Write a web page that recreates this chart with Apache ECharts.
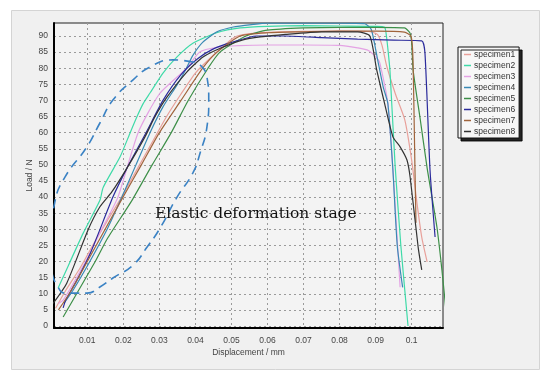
<!DOCTYPE html>
<html><head><meta charset="utf-8">
<script src="https://cdn.jsdelivr.net/npm/echarts@6/dist/echarts.min.js"></script>
<style>html,body{margin:0;padding:0;background:#fff}#c{width:550px;height:379px}</style>
</head><body><div id="c"></div>
<script>
// ---- data (displacement mm, load N) ----
const seriesNames = ['specimen1','specimen2','specimen3','specimen4','specimen5','specimen6','specimen7','specimen8'];
const xTickValues = [0.01,0.02,0.03,0.04,0.05,0.06,0.07,0.08,0.09,0.1];
const yTickValues = [0,5,10,15,20,25,30,35,40,45,50,55,60,65,70,75,80,85,90];
const specimen1 = [[0.0012,5.5],[0.004,11],[0.008,18],[0.012,26],[0.016,33.5],[0.0195,40],[0.024,49],[0.028,57],[0.032,65],[0.036,72],[0.040,78.5],[0.044,83],[0.0496,88.6],[0.0516,90],[0.056,90.8],[0.062,91.2],[0.07,91.4],[0.08,91.5],[0.088,91.4],[0.0905,90.5],[0.0918,87],[0.093,81],[0.0955,72],[0.0981,64],[0.1,51.5],[0.1015,38],[0.1028,27.6],[0.1043,19.9]];
const specimen2 = [[0.0019,11.8],[0.0033,15.2],[0.0089,28.9],[0.0135,39],[0.0144,43],[0.0191,52.5],[0.0219,60],[0.0238,65],[0.0255,69],[0.0274,72.3],[0.031,78.5],[0.0349,83.5],[0.0394,87.8],[0.0459,91],[0.0524,92.5],[0.06,93],[0.07,93.2],[0.08,93.1],[0.09,93],[0.0925,92.7],[0.093,90],[0.0935,85],[0.094,79],[0.0954,50],[0.097,25],[0.099,0]];
const specimen3 = [[0.002,7],[0.0033,8],[0.006,13],[0.01,21],[0.014,30],[0.0185,40],[0.0241,60],[0.03,72],[0.0376,80],[0.0412,85],[0.046,86.5],[0.052,87],[0.06,87.2],[0.07,87.2],[0.08,87.1],[0.085,86.3],[0.088,85.5],[0.0905,83],[0.0912,81.5],[0.0934,69],[0.0948,48.4],[0.0968,12]];
const specimen4 = [[0.0035,7],[0.006,11],[0.0107,20],[0.0155,30],[0.0196,40],[0.0235,50],[0.0274,60],[0.031,68],[0.035,75],[0.0375,80],[0.0393,84],[0.042,88],[0.046,91.3],[0.0505,92.8],[0.056,93.6],[0.0598,94],[0.07,94],[0.08,94],[0.087,93.8],[0.0888,92],[0.0905,83],[0.0921,74.2],[0.0934,69],[0.0948,48.4],[0.096,25],[0.0975,12]];
const specimen5 = [[0.0033,2.8],[0.0122,20],[0.0155,27],[0.0224,39],[0.028,50],[0.0333,60],[0.038,70],[0.0435,80],[0.0468,85],[0.054,90],[0.06,91.8],[0.07,92.5],[0.08,92.7],[0.09,92.7],[0.098,92.5],[0.0995,91],[0.1,88],[0.1004,79.5],[0.1024,64],[0.1043,49],[0.107,30.8],[0.1084,17.4],[0.1095,5]];
const specimen6 = [[0.0033,5.6],[0.004,8],[0.007,14],[0.011,23],[0.0171,40],[0.021,49],[0.0263,60],[0.031,70],[0.036,78],[0.0407,83],[0.045,86],[0.05,88],[0.057,90],[0.065,90],[0.075,89.5],[0.085,89],[0.095,88.7],[0.1028,88.5],[0.1037,84.6],[0.1051,48.4],[0.1065,27.6]];
const specimen7 = [[0.002,5],[0.005,10],[0.01,20],[0.0199,40],[0.025,50],[0.030,60],[0.036,70],[0.042,80],[0.046,85],[0.0524,90],[0.06,91],[0.07,91.3],[0.08,91.5],[0.09,91.5],[0.098,91.2],[0.0998,90],[0.1003,85],[0.1006,70],[0.1009,50],[0.1012,32]];
const specimen8 = [[0.0005,7],[0.0043,13.3],[0.0102,29.8],[0.0135,37],[0.0168,41.6],[0.021,49],[0.026,58.7],[0.0288,65],[0.0321,71],[0.0376,78.8],[0.0421,83.5],[0.0477,86.6],[0.0532,88.8],[0.058,89.7],[0.065,90.5],[0.075,91.3],[0.085,91.3],[0.0884,90],[0.0903,79.5],[0.0925,69],[0.0948,58.7],[0.0968,55.6],[0.0987,51.5],[0.0996,46],[0.1018,24.5],[0.1028,17.4]];
// dashed outline marking the elastic stage (data units)
const elasticOutline = [[0.0393,81.9],[0.0338,82.6],[0.0274,80.4],[0.0227,76.4],[0.0171,70.1],[0.0135,63.0],[0.0099,55.6],[0.0038,46.2],[0.0010,38.5],[-0.0004,22.7],[0.0002,16.4],[0.0016,12.7],[0.0038,10.2],[0.0099,10.2],[0.0135,12.1],[0.0171,14.9],[0.0227,18.9],[0.0266,24.5],[0.0302,30.4],[0.0349,40.0],[0.0393,47.5],[0.0413,53.7],[0.0432,61.8],[0.0437,70.1],[0.0432,77.3],[0.0413,81.0],[0.0393,81.9]];
const annotationText = 'Elastic deformation stage';

const allData = [specimen1,specimen2,specimen3,specimen4,specimen5,specimen6,specimen7,specimen8];
const colors = ['#e8a09a','#3fdaa8','#e4a2e4','#3a8ab5','#3d8f48','#2b2b9c','#a0643c','#333333'];

const chart = echarts.init(document.getElementById('c'), null, {renderer:'canvas'});
const series = seriesNames.map((n,i)=>({
  name:n, type:'line', data:allData[i], showSymbol:false, symbol:'none',
  smooth:0.2, lineStyle:{color:colors[i], width:1.2}, itemStyle:{color:colors[i]}, z:3
}));
series.push({
  name:'outline', type:'line', data:elasticOutline, showSymbol:false, symbol:'none', smooth:0.5,
  clip:false, lineStyle:{color:'#3a82c4', width:1.6, type:[9,6]}, z:4, silent:true
});
const axisFont = {fontFamily:'Liberation Sans, Arial', fontSize:8.5, color:'#444'};
chart.setOption({
  animation:false,
  backgroundColor:'#ffffff',
  graphic:[
    {type:'rect', z:-10, shape:{x:11.5,y:10.5,width:528,height:359}, style:{fill:'#f0f0f0', stroke:'#d4d4d4', lineWidth:1}},
    {type:'text', z:100, x:155, y:214, style:{text:annotationText, font:'15.5px "DejaVu Serif"', fill:'#111', textVerticalAlign:'middle'}}
  ],
  grid:{left:54, top:23, right:107, bottom:51, show:true, backgroundColor:'#f3f3f3', borderColor:'#222', borderWidth:1},
  legend:{
    data:seriesNames, orient:'vertical', left:458, top:47,
    icon:'rect', itemWidth:7, itemHeight:1.5, itemGap:0,
    padding:[2,4,1,6], backgroundColor:'#f7f7f7', borderColor:'#111', borderWidth:1,
    shadowColor:'rgba(0,0,0,0.85)', shadowOffsetX:3, shadowOffsetY:3, shadowBlur:0,
    textStyle:{fontFamily:'Liberation Sans, Arial', fontSize:8.5, color:'#333', lineHeight:11, padding:[0,0,0,-2]}
  },
  xAxis:{
    type:'value', min:0.00076, max:0.1087,
    name:'Displacement / mm', nameLocation:'middle', nameGap:20, nameMoveOverlap:false, nameTextStyle:axisFont,
    axisLine:{show:true, onZero:false, lineStyle:{color:'#000', width:2}},
    axisTick:{show:false, customValues:xTickValues},
    axisLabel:Object.assign({customValues:xTickValues, margin:8, formatter:v=>String(+v.toFixed(2))}, axisFont),
    splitLine:{show:true, lineStyle:{color:'#9a9a9a', type:[2,3], width:1}}
  },
  yAxis:{
    type:'value', min:-0.62, max:94.03,
    name:'Load / N', nameLocation:'middle', nameGap:20, nameMoveOverlap:false, nameRotate:90, nameTextStyle:axisFont,
    axisLine:{show:true, onZero:false, lineStyle:{color:'#000', width:2}},
    axisTick:{show:false, customValues:yTickValues},
    axisLabel:Object.assign({customValues:yTickValues, margin:6}, axisFont),
    splitLine:{show:true, lineStyle:{color:'#9a9a9a', type:[2,3], width:1}}
  },
  series:series
});
</script></body></html>
